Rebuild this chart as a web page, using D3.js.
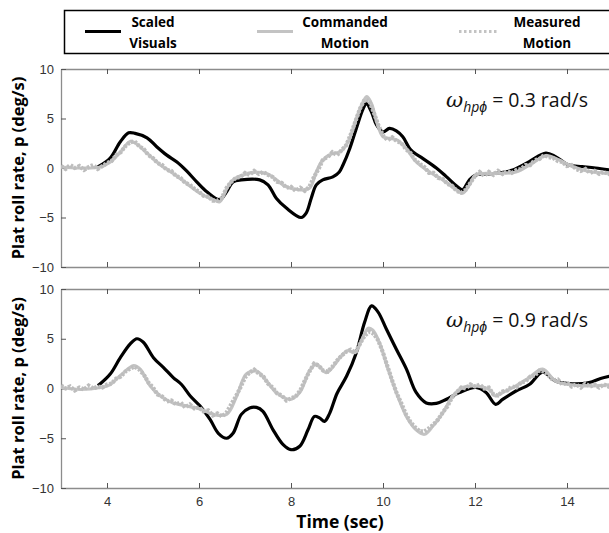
<!DOCTYPE html>
<html><head><meta charset="utf-8">
<script src="https://cdn.jsdelivr.net/npm/d3@7"></script>
<style>body{margin:0;background:#fff}svg{display:block}</style>
</head><body>
<svg id="c" width="609" height="533"></svg>
<script>
// ---------- data ----------
const xTicks = [4, 6, 8, 10, 12, 14];
const yTicks = [-10, -5, 0, 5, 10];
const seriesNames = ["Scaled Visuals", "Commanded Motion", "Measured Motion"];
const panelLabels = ["0.3 rad/s", "0.9 rad/s"];

// Top panel (omega = 0.3 rad/s)
const topVisT = [3.8,4.07,4.29,4.47,4.61,4.87,5.08,5.3,5.52,5.73,5.95,6.17,6.45,6.6,6.74,6.92,7.32,7.5,7.68,7.9,8.22,8.33,8.44,8.55,8.69,8.91,9.05,9.13,9.28,9.42,9.57,9.64,9.75,9.86,10.0,10.14,10.29,10.43,10.61,10.87,11.16,11.37,11.62,11.73,11.88,12.02,12.45,12.82,13.18,13.54,13.75,14.04,14.33,14.62,15.0];
const topVisV = [0.1,1.0,2.65,3.55,3.5,3.05,2.15,1.3,0.6,-0.3,-1.4,-2.4,-3.2,-2.4,-1.4,-1.2,-1.2,-1.7,-3.05,-4.05,-5.0,-4.55,-3.05,-1.7,-1.2,-0.9,-0.4,0.3,2.0,4.0,6.0,6.5,5.65,4.35,3.65,4.0,3.75,3.15,1.8,0.95,0.0,-0.85,-1.9,-2.2,-1.2,-0.7,-0.55,-0.2,0.65,1.5,1.15,0.3,0.15,0.0,-0.25];
const topCmdT = [3.0,3.4,3.86,4.07,4.29,4.51,4.65,4.87,5.16,5.44,5.73,6.02,6.31,6.45,6.6,6.74,6.96,7.18,7.47,7.68,7.9,8.19,8.4,8.55,8.69,8.91,9.06,9.24,9.42,9.57,9.65,9.75,9.86,10.0,10.14,10.32,10.5,10.72,11.01,11.3,11.59,11.73,11.88,12.02,12.45,12.89,13.25,13.54,13.83,14.12,14.48,15.0];
const topCmdV = [0.1,0.0,0.1,0.6,1.6,2.7,2.4,1.5,0.3,-0.55,-1.55,-2.55,-3.2,-3.4,-2.1,-1.2,-0.7,-0.45,-0.55,-1.2,-1.9,-2.2,-2.05,-0.4,0.8,1.5,1.6,2.65,5.0,6.7,7.2,6.5,4.7,3.15,3.0,2.8,2.0,0.65,-0.4,-1.2,-2.2,-2.55,-1.7,-0.7,-0.55,-0.4,0.5,1.25,0.8,0.15,-0.35,-0.55];
const topMeasV = [0.2,-0.1,0.3,0.0,0.2,-0.2,0.1,0.3,-0.1,0.2,0.5,0.7,1.3,1.6,2.2,2.6,2.7,2.2,1.9,1.3,1.0,0.5,0.3,-0.2,-0.3,-0.8,-1.0,-1.5,-1.7,-2.1,-2.4,-2.8,-2.9,-3.3,-3.3,-3.0,-2.0,-1.4,-1.0,-0.9,-0.5,-0.7,-0.3,-0.6,-0.4,-0.7,-0.9,-1.4,-1.5,-2.0,-1.9,-2.3,-2.0,-2.3,-1.9,-0.9,-0.1,0.9,1.1,1.6,1.3,1.8,2.3,3.4,4.7,6.0,6.9,6.8,5.6,4.3,3.3,2.8,3.1,2.7,2.5,1.9,1.5,0.8,0.4,0.1,-0.5,-0.5,-1.0,-1.1,-1.6,-1.8,-2.3,-2.5,-2.2,-1.5,-0.8,-0.4,-0.8,-0.4,-0.7,-0.3,-0.6,-0.3,-0.5,-0.2,-0.1,0.3,0.3,0.8,0.9,1.3,1.1,1.0,0.7,0.6,0.2,0.3,-0.1,-0.3,-0.1,-0.5,-0.3,-0.6,-0.4,-0.6,-0.4];

// Bottom panel (omega = 0.9 rad/s)
const botVisT = [3.8,3.86,4.07,4.29,4.51,4.65,4.79,5.01,5.23,5.44,5.62,5.81,6.02,6.24,6.42,6.6,6.74,6.92,7.1,7.25,7.39,7.61,7.83,8.0,8.19,8.37,8.51,8.62,8.73,8.84,9.0,9.21,9.42,9.6,9.75,9.89,10.07,10.29,10.51,10.72,10.94,11.16,11.37,11.66,12.02,12.24,12.45,12.6,12.89,13.18,13.47,13.75,14.04,14.48,14.73,15.0];
const botVisV = [0.3,0.5,1.45,3.1,4.5,5.0,4.65,3.1,2.1,1.1,0.4,-0.75,-1.75,-3.1,-4.5,-5.0,-4.5,-2.6,-1.95,-1.9,-2.3,-4.15,-5.65,-6.15,-5.8,-4.15,-2.8,-2.95,-3.3,-2.5,-0.5,1.25,3.6,6.65,8.3,7.7,6.0,3.95,1.95,-0.4,-1.45,-1.5,-1.1,-0.4,0.1,-0.4,-1.6,-1.1,-0.25,0.4,1.65,0.75,0.5,0.6,1.0,1.3];
const botCmdT = [3.0,3.42,3.86,4.07,4.29,4.58,4.72,4.94,5.16,5.44,5.73,6.02,6.31,6.6,6.82,7.03,7.25,7.47,7.68,7.97,8.19,8.4,8.55,8.77,8.98,9.06,9.24,9.39,9.53,9.68,9.78,9.93,10.11,10.29,10.51,10.72,10.9,11.08,11.3,11.52,11.73,12.02,12.31,12.45,12.6,12.89,13.18,13.47,13.75,14.04,14.48,15.0];
const botCmdV = [0.1,-0.1,0.1,0.4,1.3,2.3,1.95,0.25,-0.75,-1.45,-1.75,-2.05,-2.6,-2.6,-0.75,1.45,1.75,0.75,-0.4,-1.1,-0.4,1.75,2.45,1.6,2.6,3.1,3.8,3.6,4.8,6.05,5.85,4.5,1.95,-0.4,-2.8,-4.15,-4.6,-3.8,-2.45,-0.75,0.1,0.25,-0.1,-0.75,-0.4,0.25,1.1,1.95,0.75,0.4,0.25,0.4];
const botMeasV = [0.3,0.0,0.2,-0.2,0.1,-0.1,0.3,0.0,0.2,0.1,0.4,0.5,1.0,1.2,1.7,2.0,2.2,1.9,1.4,0.6,0.1,-0.6,-0.8,-1.3,-1.2,-1.6,-1.4,-1.9,-1.6,-2.0,-1.9,-2.3,-2.2,-2.7,-2.5,-2.8,-2.4,-1.6,-0.8,0.1,1.1,1.6,1.9,1.5,1.2,0.5,0.1,-0.5,-0.7,-1.2,-1.0,-0.8,-0.2,0.8,1.7,2.5,2.3,1.8,1.7,2.2,2.8,3.3,3.7,3.9,3.6,4.5,5.3,5.7,5.5,4.8,3.6,2.2,0.8,-0.5,-1.5,-2.6,-3.4,-3.9,-4.3,-4.3,-4.0,-3.6,-3.1,-2.4,-1.8,-0.9,-0.4,0.1,0.0,0.4,0.2,0.4,0.0,0.1,-0.6,-0.7,-0.3,-0.2,0.2,0.1,0.6,0.7,1.2,1.3,1.8,1.7,1.3,0.8,0.9,0.4,0.6,0.2,0.4,0.1,0.5,0.2,0.4,0.1,0.4,0.2,0.5];
const measT = d3.range(0, 121).map(i => 3 + i * 0.1);

// ---------- drawing ----------
const svg = d3.select("#c");
const x = d3.scaleLinear().domain([3, 15]).range([61, 613]);
const panels = [
  {y0: 69, y1: 267, vis: [topVisT, topVisV], cmd: [topCmdT, topCmdV], meas: topMeasV, label: panelLabels[0], showX: false},
  {y0: 289, y1: 488, vis: [botVisT, botVisV], cmd: [botCmdT, botCmdV], meas: botMeasV, label: panelLabels[1], showX: true}
];
const frameCol = "#8c8c8c";
const tickCol = "#555";
const defs = svg.append("defs");

panels.forEach((p, i) => {
  const y = d3.scaleLinear().domain([-10, 10]).range([p.y1, p.y0]);
  const g = svg.append("g");
  const cid = "clip" + i;
  defs.append("clipPath").attr("id", cid)
    .append("rect").attr("x", x(3)).attr("y", p.y0).attr("width", x(15) - x(3)).attr("height", p.y1 - p.y0);

  const xb = d3.axisBottom(x).tickValues(xTicks).tickSizeInner(-5).tickSizeOuter(0).tickPadding(9)
    .tickFormat(p.showX ? d3.format("d") : () => "");
  const gx = g.append("g").attr("transform", `translate(0,${p.y1})`).call(xb);
  const xt = d3.axisTop(x).tickValues(xTicks).tickSizeInner(-5).tickSizeOuter(0).tickFormat(() => "");
  const gxt = g.append("g").attr("transform", `translate(0,${p.y0})`).call(xt);
  const yl = d3.axisLeft(y).tickValues(yTicks).tickSizeInner(-5).tickSizeOuter(0).tickPadding(7);
  const gy = g.append("g").attr("transform", `translate(${x(3)},0)`).call(yl);
  [gx, gxt, gy].forEach(a => {
    a.select(".domain").attr("stroke", frameCol).attr("stroke-width", 1.3);
    a.selectAll(".tick line").attr("stroke", tickCol).attr("stroke-width", 1);
    a.selectAll(".tick text").attr("fill", "#333").attr("font-family", "Liberation Sans, Arial, sans-serif").attr("font-size", 13);
  });

  const line = d3.line().x(d => x(d[0])).y(d => y(d[1]));
  const zip = (ts, vs) => ts.map((t, k) => [t, vs[k]]);
  const plot = g.append("g").attr("clip-path", `url(#${cid})`);
  plot.append("path").datum(zip(p.vis[0], p.vis[1]))
    .attr("d", line.curve(d3.curveCatmullRom.alpha(0.5)))
    .attr("fill", "none").attr("stroke", "#000").attr("stroke-width", 3.2);
  plot.append("path").datum(zip(p.cmd[0], p.cmd[1]))
    .attr("d", line.curve(d3.curveCatmullRom.alpha(0.5)))
    .attr("fill", "none").attr("stroke", "#c3c3c3").attr("stroke-width", 3.2);
  plot.append("path").datum(zip(measT, p.meas))
    .attr("d", line.curve(d3.curveLinear))
    .attr("fill", "none").attr("stroke", "#bdbdbd").attr("stroke-width", 4.2)
    .attr("stroke-dasharray", "2.5,1.5");

  g.append("text")
    .attr("transform", `translate(24,${(p.y0 + p.y1) / 2}) rotate(-90)`)
    .attr("text-anchor", "middle")
    .attr("font-family", "Open Sans, sans-serif").attr("font-weight", "bold").attr("font-size", 16.5)
    .attr("fill", "#000")
    .text("Plat roll rate, p (deg/s)");

  const ann = g.append("text").attr("x", 446).attr("y", p.y0 + 38)
    .attr("font-family", "Open Sans, sans-serif").attr("font-size", 19.5).attr("fill", "#111");
  ann.append("tspan").attr("font-family", "DejaVu Serif, serif").attr("font-style", "italic").attr("font-size", 21).text("ω");
  ann.append("tspan").attr("font-style", "italic").attr("font-size", 14).attr("dy", 5).text("hpϕ");
  ann.append("tspan").attr("dy", -5).text(" = " + p.label);
});

svg.append("text").attr("x", 340).attr("y", 528).attr("text-anchor", "middle")
  .attr("font-family", "Open Sans, sans-serif").attr("font-weight", "bold").attr("font-size", 17.5)
  .text("Time (sec)");

const lg = svg.append("g");
lg.append("rect").attr("x", 64.5).attr("y", 10.5).attr("width", 560).attr("height", 43)
  .attr("fill", "#fff").attr("stroke", "#000").attr("stroke-width", 1.5);
const legItems = [
  {x1: 85, x2: 121, tx: 153, col: "#000", w: 3, dash: null},
  {x1: 257, x2: 293, tx: 345, col: "#c3c3c3", w: 3, dash: null},
  {x1: 459, x2: 497, tx: 547, col: "#c3c3c3", w: 3, dash: "2.5,2.5"}
];
legItems.forEach((it, k) => {
  const ln = lg.append("line").attr("x1", it.x1).attr("x2", it.x2).attr("y1", 31.5).attr("y2", 31.5)
    .attr("stroke", it.col).attr("stroke-width", it.w);
  if (it.dash) ln.attr("stroke-dasharray", it.dash);
  const words = seriesNames[k].split(" ");
  const t = lg.append("text").attr("text-anchor", "middle")
    .attr("font-family", "Open Sans, sans-serif").attr("font-weight", "bold").attr("font-size", 13.5);
  t.append("tspan").attr("x", it.tx).attr("y", 27).text(words[0]);
  t.append("tspan").attr("x", it.tx).attr("y", 48).text(words[1]);
});
</script>
</body></html>
